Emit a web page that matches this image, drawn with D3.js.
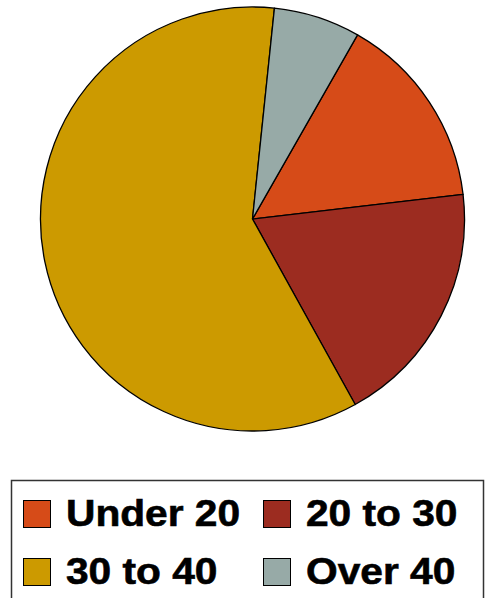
<!DOCTYPE html>
<html><head><meta charset="utf-8">
<script src="https://cdn.jsdelivr.net/npm/d3@7"></script>
<style>body{margin:0;background:#fff}svg{display:block}</style>
</head><body>
<script>
const categories = ["Under 20", "20 to 30", "30 to 40", "Over 40"];
const values = [14.9, 18.8, 59.7, 6.6];
const colors = ["#d64b18", "#9c2c20", "#cc9a00", "#97aaa7"];

const W = 487, H = 598;
const svg = d3.select("body").append("svg").attr("width", W).attr("height", H);
const cx = 252.5, cy = 219, r = 212;
const startDeg = 29.7;

const pie = d3.pie().sort(null).value(d => d.v)
  .startAngle(startDeg * Math.PI / 180)
  .endAngle((startDeg + 360) * Math.PI / 180);
const data = categories.map((c, i) => ({c, v: values[i], col: colors[i]}));
const arc = d3.arc().innerRadius(0).outerRadius(r);
svg.append("g").attr("transform", `translate(${cx},${cy})`)
  .selectAll("path").data(pie(data)).join("path")
  .attr("d", arc).attr("fill", d => d.data.col)
  .attr("stroke", "#000").attr("stroke-width", 1.3).attr("stroke-linejoin", "round");

// legend
svg.append("rect").attr("x", 11.5).attr("y", 480.5).attr("width", 472).attr("height", 140)
  .attr("fill", "#fff").attr("stroke", "#333").attr("stroke-width", 1.5);
const colX = [23, 263], rowY = [500, 558];
const lg = svg.append("g").selectAll("g").data(data).join("g")
  .attr("transform", (d, i) => `translate(${colX[i % 2]},${rowY[Math.floor(i / 2)]})`);
lg.append("rect").attr("x", 0.5).attr("y", 0.5).attr("width", 27).attr("height", 27)
  .attr("fill", d => d.col).attr("stroke", "#000").attr("stroke-width", 1);
lg.append("text").attr("transform", "translate(43,26) scale(1.1,1)")
  .attr("font-family", "Liberation Sans, Arial, sans-serif").attr("font-weight", "bold")
  .attr("font-size", 37).attr("fill", "#000")
  .attr("stroke", "#000").attr("stroke-width", 0.6).text(d => d.c);
</script>
</body></html>
